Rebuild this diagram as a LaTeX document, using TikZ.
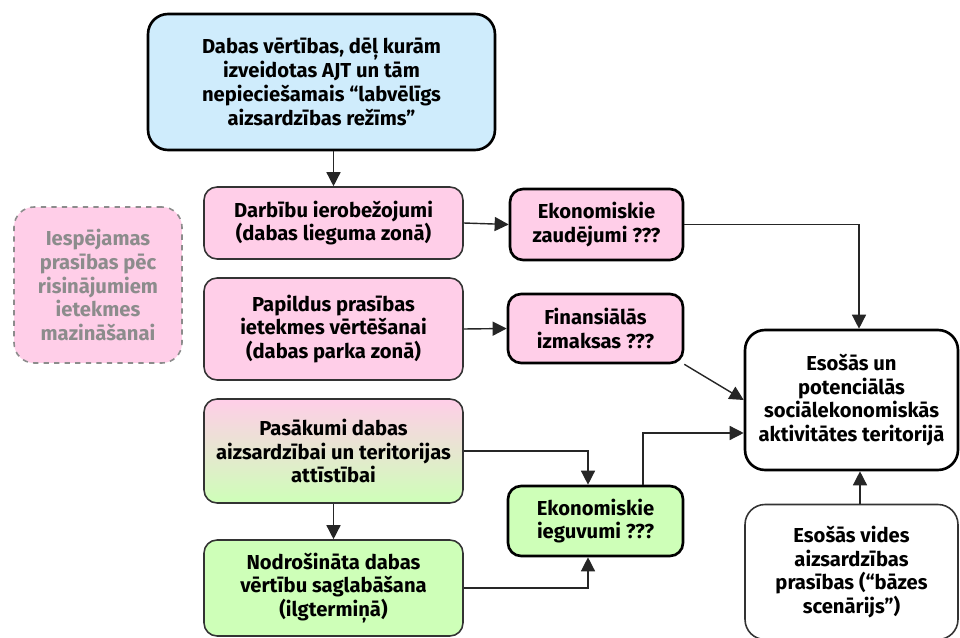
\documentclass[tikz,border=0pt]{standalone}
\usepackage{fontspec}
\setmainfont{Fira Sans}
\usepackage{tikz}
\usetikzlibrary{arrows.meta}
\usetikzlibrary{shadings}
\usetikzlibrary{positioning}
\definecolor{skyblue}{RGB}{207,236,252}
\definecolor{rosepink}{RGB}{255,206,232}
\definecolor{leafgreen}{RGB}{206,255,184}
\definecolor{softgray}{RGB}{140,140,140}
\tikzstyle{box}=[rectangle,rounded corners=0.26cm,align=center,inner sep=2pt,
  font=\fontsize{11.5}{13.6}\selectfont\bfseries]
\tikzstyle{thickbox}=[box,draw=black,line width=1.5pt]
\tikzstyle{thinbox}=[box,draw=black!80,line width=0.9pt]
\tikzstyle{arr}=[-{Triangle[length=8pt,width=8pt]},line width=0.8pt,black!85]

\begin{document}
\begin{tikzpicture}[x=0.02cm,y=-0.02cm]
	\useasboundingbox (0,0) rectangle (960,638);
	\node[thickbox,fill=skyblue,rounded corners=0.4cm,minimum width=6.94cm,minimum height=2.72cm] (top) at (321.5,82) {Dabas vērtības, dēļ kurām\\izveidotas AJT un tām\\nepieciešamais “labvēlīgs\\aizsardzības režīms”};
	\node[box,draw=softgray,dashed,line width=0.9pt,fill=rosepink,text=softgray,rounded corners=0.4cm,minimum width=3.36cm,minimum height=3.12cm] (iesp) at (98,285) {Iespējamas\\prasības pēc\\risinājumiem\\ietekmes\\mazināšanai};
	\node[thinbox,fill=rosepink,minimum width=5.18cm,minimum height=1.44cm] (dar) at (333.5,223) {Darbību ierobežojumi\\(dabas lieguma zonā)};
	\node[thickbox,fill=rosepink,minimum width=3.46cm,minimum height=1.42cm] (zaud) at (596.5,224.5) {Ekonomiskie\\zaudējumi ???};
	\node[thinbox,fill=rosepink,minimum width=5.18cm,minimum height=2.04cm] (pap) at (333.5,329) {Papildus prasības\\ietekmes vērtēšanai\\(dabas parka zonā)};
	\node[thickbox,fill=rosepink,minimum width=3.5cm,minimum height=1.38cm] (fin) at (595.5,328.5) {Finansiālās\\izmaksas ???};
	\node[thinbox,top color=rosepink,bottom color=leafgreen,minimum width=5.18cm,minimum height=2.08cm] (pas) at (333.5,451) {Pasākumi dabas\\aizsardzībai un teritorijas\\attīstībai};
	\node[thinbox,fill=leafgreen,minimum width=5.18cm,minimum height=1.92cm] (nod) at (333.5,588) {Nodrošināta dabas\\vērtību saglabāšana\\(ilgtermiņā)};
	\node[thickbox,fill=leafgreen,minimum width=3.5cm,minimum height=1.4cm] (ieg) at (595.5,521) {Ekonomiskie\\ieguvumi ???};
	\node[thickbox,fill=white,rounded corners=0.4cm,minimum width=4.26cm,minimum height=2.8cm] (eso) at (851.5,400) {Esošās un\\potenciālās\\sociālekonomiskās\\aktivitātes teritorijā};
	\node[thinbox,fill=white,rounded corners=0.4cm,minimum width=4.26cm,minimum height=2.7cm] (vid) at (851.5,572) {Esošās vides\\aizsardzības\\prasības (“bāzes\\scenārijs”)};
	%connectors
	\draw[arr] (top.south -| dar.north) -- (dar.north);
	\draw[arr] (dar.east) -- (zaud.west);
	\draw[arr] (pap.east) -- (fin.west);
	\draw[arr] (pas.south) -- (nod.north);
	\draw[arr] (zaud.east) -| ([xshift=0.15cm]eso.north);
	\draw[arr] (fin.south east) -- (eso.west);
	\draw[arr] ([xshift=0.95cm]ieg.north) |- ([yshift=-0.66cm]eso.west);
	\draw[arr] ([xshift=0.17cm]vid.north) -- ([xshift=0.17cm]eso.south);
	\draw[arr] (pas.east) -| ([xshift=-0.15cm]ieg.north);
	\draw[arr] (nod.east) -| ([xshift=-0.15cm]ieg.south);
\end{tikzpicture}
\end{document}
